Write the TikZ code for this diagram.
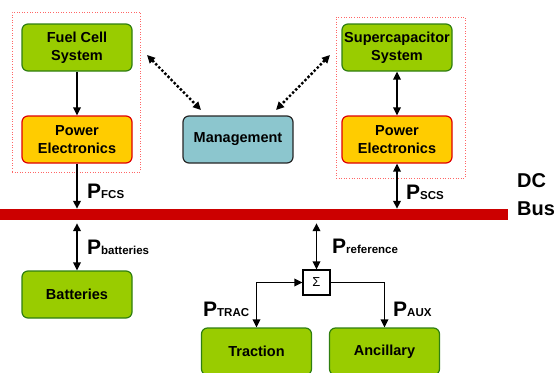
\documentclass[tikz,border=0pt]{standalone}
\usepackage{fontspec}
\setmainfont{Liberation Sans}
\usetikzlibrary{arrows.meta}
\definecolor{boxgreen}{HTML}{99CC00}
\definecolor{greenedge}{HTML}{2F7F10}
\definecolor{boxyellow}{HTML}{FFCC00}
\definecolor{yellowedge}{HTML}{E00000}
\definecolor{mgmt}{HTML}{8CC6CE}
\definecolor{busred}{HTML}{CC0000}
\definecolor{dotred}{HTML}{FF6666}
\begin{document}
\begin{tikzpicture}[x=1pt,y=-1pt,
  >={Triangle[length=8pt,width=7.5pt]},
  blk/.style={rounded corners=6pt, line width=1.2pt, minimum width=110pt, minimum height=47pt, align=center, font=\fontsize{14.5}{18.5}\selectfont\bfseries, inner sep=0pt},
  gbox/.style={blk, fill=boxgreen, draw=greenedge},
  ybox/.style={blk, fill=boxyellow, draw=yellowedge},
  mbox/.style={blk, fill=mgmt, draw=black!85},
  grp/.style={draw=dotred, dotted, line width=0.6pt, inner sep=0pt},
  one/.style={line width=1.8pt, ->},
  two/.style={line width=1.8pt, <->},
  dots/.style={line width=2.4pt, dotted, <->},
  plabel/.style={anchor=base west, inner sep=0pt, font=\bfseries},
]
\useasboundingbox (0,0) rectangle (556,372);
% dotted groups
\node[grp, minimum width=128pt, minimum height=160pt] (gl) at (76,92) {};
\node[grp, minimum width=129pt, minimum height=161pt] (gr) at (400.5,97.5) {};
% blocks
\node[gbox] (fc) at (77,47.5) {Fuel Cell\\System};
\node[ybox] (pel) at (77,139.5) {Power\\Electronics};
\node[mbox] (mg) at (238,139.5) {Management};
\node[gbox] (sc) at (397,47.5) {Supercapacitor\\System};
\node[ybox] (per) at (397,139.5) {Power\\Electronics};
\node[gbox] (bat) at (77,294.5) {Batteries};
\node[gbox] (trac) at (256.5,351.5) {Traction};
\node[gbox] (anc) at (384.5,351.5) {Ancillary};
\node[draw, fill=white, line width=1.2pt, minimum width=27pt, minimum height=25pt, inner sep=0pt, font=\fontsize{13}{13}\selectfont] (sig) at (316.5,282.5) {Σ};
% bus
\node[fill=busred, minimum width=508pt, minimum height=11pt, inner sep=0pt] (bus) at (254,214.5) {};
\node[anchor=base west, inner sep=0pt, align=left, font=\fontsize{20}{28}\selectfont\bfseries] (dcbus) at (517,215) {DC\\Bus};
% connectors
\draw[one] (fc.south) -- (pel.north);
\draw[two] (sc.south) -- (per.north);
\draw[one] (pel.south) -- (pel.south |- bus.north);
\draw[two] (per.south) -- (per.south |- bus.north);
\draw[two] (bat.north) -- ([yshift=-3pt]bat.north |- bus.south);
\draw[two] (sig.north) -- ([yshift=-3pt]sig.north |- bus.south);
\draw[two] (sig.west) -| (trac.north);
\draw[one] (sig.east) -| (anc.north);
\coordinate (d1a) at (147,55);
\coordinate (d1b) at (201,110);
\coordinate (d2a) at (330,55);
\coordinate (d2b) at (276,110);
\draw[dots] (d1a) -- (d1b);
\draw[dots] (d2a) -- (d2b);
% labels
\node[plabel] (pfcs) at (87,198) {\fontsize{21}{21}\selectfont P\fontsize{11.5}{12}\selectfont FCS};
\node[plabel] (pscs) at (406,199) {\fontsize{21}{21}\selectfont P\fontsize{11.5}{12}\selectfont SCS};
\node[plabel] (pbat) at (87,254) {\fontsize{21}{21}\selectfont P\fontsize{11.5}{12}\selectfont batteries};
\node[plabel] (pref) at (332,253) {\fontsize{21}{21}\selectfont P\fontsize{11.5}{12}\selectfont reference};
\node[plabel] (ptrac) at (203,316) {\fontsize{21}{21}\selectfont P\fontsize{11.5}{12}\selectfont TRAC};
\node[plabel] (paux) at (393,316) {\fontsize{21}{21}\selectfont P\fontsize{11.5}{12}\selectfont AUX};
\end{tikzpicture}
\end{document}
